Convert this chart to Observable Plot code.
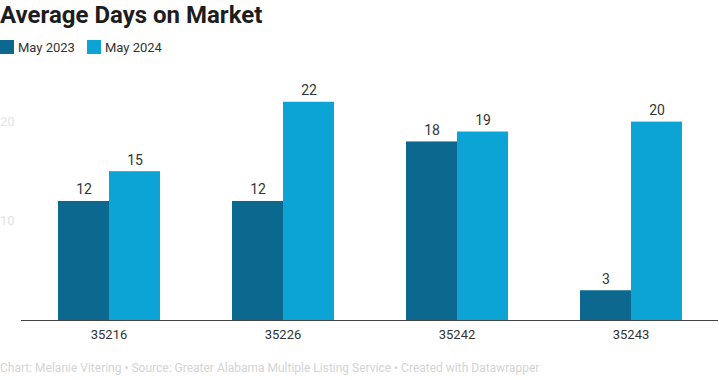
<!DOCTYPE html>
<html>
<head>
<meta charset="utf-8">
<script src="https://cdn.jsdelivr.net/npm/d3@7"></script>
<script src="https://cdn.jsdelivr.net/npm/@observablehq/plot@0.6"></script>
<style>
  body { margin: 0; background: #fff; font-family: Roboto, "Noto Sans", sans-serif; width: 719px; overflow: hidden; }
  #title { font-size: 24px; font-weight: 700; color: #1d1d1d; line-height: 30px; height: 33px; margin: 0; padding: 0; }
  #legend { display: flex; align-items: center; height: 28px; font-size: 13px; color: #333; }
  .item { display: flex; align-items: center; margin-right: 12px; }
  .sw { width: 14px; height: 14px; margin-right: 4px; }
  #chart { height: 292px; }
  #caption { font-size: 12px; line-height: 14px; color: #d4d4d4; margin-top: 8px; white-space: nowrap; }
</style>
</head>
<body>
<div id="title">Average Days on Market</div>
<div id="legend"></div>
<div id="chart"></div>
<div id="caption">Chart: Melanie Vitering • Source: Greater Alabama Multiple Listing Service • Created with Datawrapper</div>
<script>
const zips = ["35216", "35226", "35242", "35243"];
const series = ["May 2023", "May 2024"];
const may2023 = [12, 12, 18, 3];
const may2024 = [15, 22, 19, 20];
const colors = ["#0d6890", "#0ba4d5"];
const yTicks = [10, 20];

const data = [];
zips.forEach((z, i) => {
  data.push({zip: z, series: series[0], value: may2023[i]});
  data.push({zip: z, series: series[1], value: may2024[i]});
});

const legend = document.getElementById("legend");
series.forEach((s, i) => {
  const it = document.createElement("div");
  it.className = "item";
  it.innerHTML = `<span class="sw" style="background:${colors[i]}"></span><span>${s}</span>`;
  legend.appendChild(it);
});

const chart = Plot.plot({
  width: 719,
  height: 292,
  marginLeft: 20,
  marginRight: 0,
  marginTop: 11,
  marginBottom: 33,
  style: {fontFamily: "Roboto, sans-serif", fontSize: "13px", color: "#333", background: "transparent", display: "block"},
  fx: {domain: zips, label: null, tickSize: 0, paddingInner: 0.406, paddingOuter: 0.203, axis: "bottom", tickPadding: 9},
  x: {domain: series, axis: null, padding: 0},
  y: {domain: [0, 25], ticks: yTicks, tickSize: 0, label: null, tickPadding: 43, grid: false},
  color: {domain: series, range: colors},
  marks: [
    Plot.ruleY([0], {stroke: "#444", strokeWidth: 1.2, insetLeft: -36, insetRight: -36}),
    Plot.barY(data, {fx: "zip", x: "series", y: "value", fill: "series"}),
    Plot.text(data, {fx: "zip", x: "series", y: "value", text: d => String(d.value), lineAnchor: "bottom", dy: -7, fontSize: 14, fill: "#333"})
  ]
});
chart.querySelectorAll('g[aria-label="y-axis tick label"]').forEach(el => el.setAttribute("fill", "#e4e4e4"));
document.getElementById("chart").appendChild(chart);
</script>
</body>
</html>
